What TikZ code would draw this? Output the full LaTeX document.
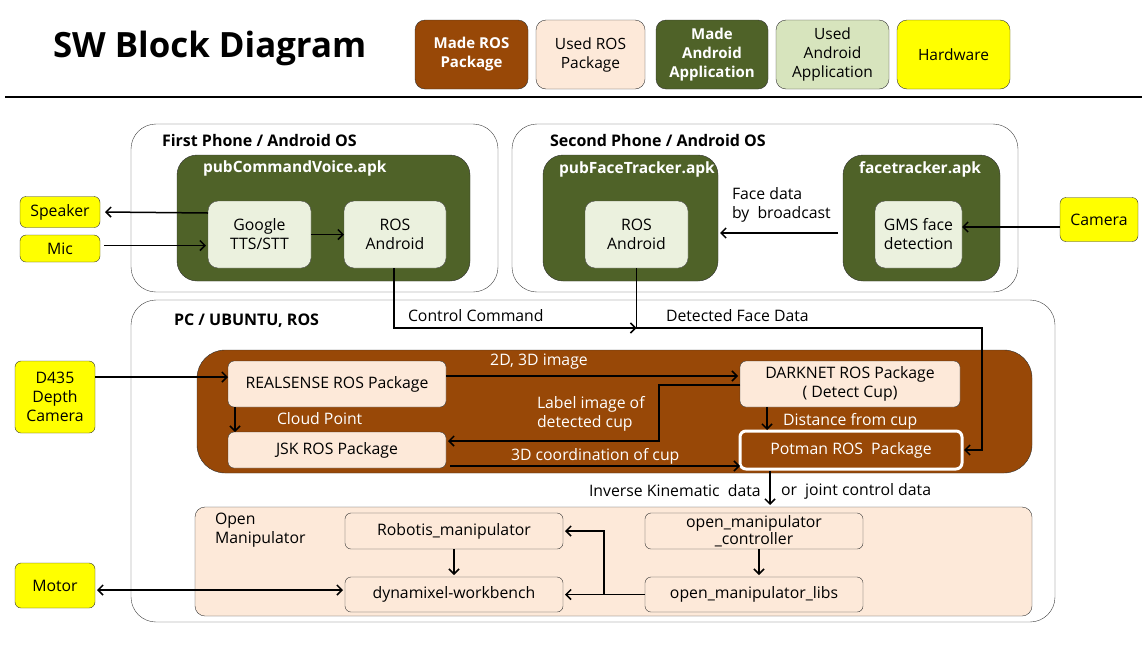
\documentclass[tikz,border=0pt]{standalone}
\usepackage{fontspec}
\setmainfont{Open Sans}
\usetikzlibrary{arrows.meta}
\definecolor{brownc}{HTML}{984807}
\definecolor{peach}{HTML}{FDE9D9}
\definecolor{dgreen}{HTML}{4F6228}
\definecolor{lgreen}{HTML}{D7E4BD}
\definecolor{lgreenb}{HTML}{EBF1DE}
\definecolor{hwyellow}{HTML}{FFFF00}
\begin{document}
\begin{tikzpicture}[x=1pt,y=-1pt,
  every node/.style={inner sep=0pt,outer sep=0pt},
  txt/.style={font=\fontsize{15.8}{19}\selectfont},
  btxt/.style={font=\bfseries\fontsize{16}{19}\selectfont},
  atxt/.style={font=\bfseries\fontsize{15.5}{19}\selectfont,text=white},
  hw/.style={txt,draw=black!80,fill=hwyellow,rounded corners=6pt,align=center},
  usedros/.style={txt,draw=black!80,fill=peach,rounded corners=6pt,align=center},
  greenbox/.style={draw=black!80,fill=dgreen,rounded corners=20pt},
  usedand/.style={txt,draw=black!70,fill=lgreenb,rounded corners=10pt,align=center},
  frame/.style={draw=black!75,rounded corners=25pt},
  legend/.style={draw=black!80,rounded corners=10pt,align=center,font=\fontsize{15.5}{19}\selectfont},
  arr/.style={line width=1.5pt,-{Straight Barb[length=5pt,width=10pt]}},
  wlab/.style={txt,text=white},
]
\useasboundingbox (0,0) rectangle (1142,646);
\fill[white] (0,0) rectangle (1142,646);

% title and legend
\node[font=\bfseries\fontsize{34.8}{40}\selectfont,anchor=west] (title) at (53,48) {SW Block Diagram};
\node[legend,fill=brownc,text=white,font=\bfseries\fontsize{15}{19}\selectfont,minimum width=113pt,minimum height=69pt] (lg1) at (471.5,54.5) {Made ROS\\Package};
\node[legend,fill=peach,minimum width=109pt,minimum height=69pt] (lg2) at (590.5,54.5) {Used ROS\\Package};
\node[legend,fill=dgreen,text=white,font=\bfseries\fontsize{15}{19}\selectfont,minimum width=112pt,minimum height=69pt] (lg3) at (712,54.5) {Made\\Android\\Application};
\node[legend,fill=lgreen,minimum width=113pt,minimum height=69pt] (lg4) at (832.5,54.5) {Used\\Android\\Application};
\node[legend,fill=hwyellow,minimum width=113pt,minimum height=69pt] (lg5) at (953.5,54.5) {Hardware};
\draw[line width=2pt] (5,97) -- (1142,97);

% first phone
\node[frame,minimum width=367pt,minimum height=168pt] (ph1) at (314.5,208) {};
\node[btxt,anchor=west] (ph1l) at (162,140) {First Phone / Android\ OS};
\node[greenbox,minimum width=293pt,minimum height=126pt] (pcv) at (323.5,218) {};
\node[atxt,anchor=west] (pcvl) at (203,168) {pubCommandVoice.apk};
\node[usedand,minimum width=103pt,minimum height=67pt] (goog) at (259.5,234.5) {Google\\TTS/STT};
\node[usedand,minimum width=102pt,minimum height=67pt] (rosa1) at (395,234.5) {ROS\\Android};
\node[hw,minimum width=80pt,minimum height=31pt] (spk) at (60,212) {Speaker};
\node[hw,minimum width=80pt,minimum height=27pt] (mic) at (60,248.5) {Mic};

% second phone
\node[frame,minimum width=506pt,minimum height=168pt] (ph2) at (765,208) {};
\node[btxt,anchor=west] (ph2l) at (550,140) {Second Phone / Android\ OS};
\node[greenbox,minimum width=175pt,minimum height=126pt] (pft) at (630.5,218) {};
\node[atxt,anchor=west] (pftl) at (559,169) {pubFaceTracker.apk};
\node[usedand,minimum width=103pt,minimum height=67pt] (rosa2) at (636.5,234.5) {ROS\\Android};
\node[greenbox,minimum width=157pt,minimum height=126pt] (ft) at (921.5,218) {};
\node[atxt,anchor=west] (ftl) at (859,169) {facetracker.apk};
\node[usedand,minimum width=87pt,minimum height=67pt] (gms) at (918.5,234.5) {GMS face\\detection};
\node[hw,minimum width=78pt,minimum height=44pt] (cam) at (1099,219.5) {Camera};
\node[txt,anchor=west,align=left] (fdb) at (732,205) {Face data\\by\ \ broadcast};

% PC
\node[frame,minimum width=924pt,minimum height=322pt] (pc) at (593,461) {};
\node[btxt,anchor=west] (pcl) at (174,321) {PC / UBUNTU, ROS};
\node[draw=black!80,fill=brownc,rounded corners=28pt,minimum width=835pt,minimum height=123pt] (brn) at (614.5,411.5) {};
\node[usedros,minimum width=218pt,minimum height=46pt] (rs) at (337,384) {REALSENSE ROS Package};
\node[usedros,minimum width=218pt,minimum height=36pt] (jsk) at (337,450) {JSK ROS Package};
\node[usedros,minimum width=220pt,minimum height=46pt] (dk) at (850,384) {DARKNET ROS Package\\( Detect Cup)};
\node[txt,draw=white,line width=3pt,fill=brownc,text=white,rounded corners=6pt,minimum width=222pt,minimum height=38pt] (pot) at (851,450) {Potman ROS\ \ Package};
\node[hw,minimum width=80pt,minimum height=72pt] (d435) at (55,397) {D435\\Depth\\Camera};

% open manipulator
\node[draw=black!80,fill=peach,rounded corners=10pt,minimum width=837pt,minimum height=109pt] (om) at (613.5,561.5) {};
\node[txt,anchor=north west,align=left] (oml) at (215,513) {Open\\Manipulator};
\node[usedros,minimum width=218pt,minimum height=36pt] (rob) at (454,531) {Robotis\_manipulator};
\node[usedros,minimum width=218pt,minimum height=35pt] (dyn) at (454,594.5) {dynamixel-workbench};
\node[usedros,minimum width=218pt,minimum height=36pt,font=\fontsize{15.8}{17}\selectfont] (ctl) at (754,531) {open\_manipulator\\\_controller};
\node[usedros,minimum width=218pt,minimum height=35pt] (libs) at (754,594.5) {open\_manipulator\_libs};
\node[hw,minimum width=80pt,minimum height=45pt] (motor) at (55,585.5) {Motor};

% connectors: phones
\draw[arr] ([yshift=21.5pt]goog.west) -- ([xshift=5pt]spk.east);
\draw[arr] ([xshift=4pt,yshift=3pt]mic.east) -- ([xshift=-2pt,yshift=-11pt]goog.west);
\draw[arr] (goog.east) -- (rosa1.west);
\draw[arr] ([xshift=-5pt,yshift=-15pt]ft.west) -- ([xshift=2pt,yshift=-15pt]pft.east);
\draw[arr] ([yshift=-7.5pt]cam.west) -- ([yshift=7.5pt]gms.east);

% control command / detected face
\coordinate (j) at (636.5,328);
\coordinate (fdc) at (982,450);
\draw[arr] ([xshift=-1pt]rosa1.south) |- (j);
\draw[arr] (rosa2.south) -- (j) -| (fdc) -- ([xshift=2pt]pot.east);
\node[txt,anchor=west] (ccl) at (408,316) {Control Command};
\node[txt,anchor=west] (dfl) at (666,316) {Detected Face Data};

% ROS area
\draw[arr] ([yshift=20pt]d435.east) -- ([yshift=7pt]rs.west);
\draw[arr] ([yshift=8pt]rs.east) -- ([xshift=-2pt,yshift=8pt]dk.west);
\node[wlab] (l2d) at (539,362) {2D, 3D image};
\coordinate (c1) at (659,441);
\draw[arr] ([yshift=-1pt]dk.west) -| (c1) -- ([xshift=2pt,yshift=9pt]jsk.east);
\node[wlab,anchor=west,align=left] (llab) at (537,413.5) {Label image of\\detected cup};
\draw[arr] ([xshift=4pt,yshift=-16pt]jsk.east) -- ([yshift=-16pt]pot.west);
\node[wlab,anchor=west] (l3d) at (511,456) {3D coordination of cup};
\draw[arr] ([xshift=-102pt]rs.south) -- ([xshift=-102pt]jsk.north);
\node[wlab,anchor=west] (lcp) at (277,419) {Cloud Point};
\draw[arr] ([xshift=-83pt]dk.south) -- ([xshift=-84pt,yshift=1pt]pot.north);
\node[wlab,anchor=west] (ldc) at (783,421) {Distance from cup};
\draw[arr] ([xshift=-81pt,yshift=-2pt]pot.south) -- ([xshift=156.5pt,yshift=2pt]om.north);
\node[txt,anchor=west] (lik) at (589,491) {Inverse Kinematic\ \ data};
\node[txt,anchor=west] (ljc) at (781,491) {or\ \ joint control data};

% manipulator connectors
\draw[arr] (rob.south) -- ([yshift=2pt]dyn.north);
\draw[arr] ([xshift=5pt]ctl.south) -- ([xshift=5pt,yshift=2pt]libs.north);
\coordinate (br) at (604,594.5);
\draw[arr] (libs.west) -- ([xshift=2pt]dyn.east);
\draw[arr] (br) |- ([xshift=2pt]rob.east);
\draw[line width=1.5pt,{Straight Barb[length=5pt,width=10pt]}-{Straight Barb[length=5pt,width=10pt]}] ([xshift=2pt,yshift=-4.5pt]motor.east) -- ([xshift=-2pt,yshift=4.5pt]dyn.west);
\end{tikzpicture}
\end{document}
